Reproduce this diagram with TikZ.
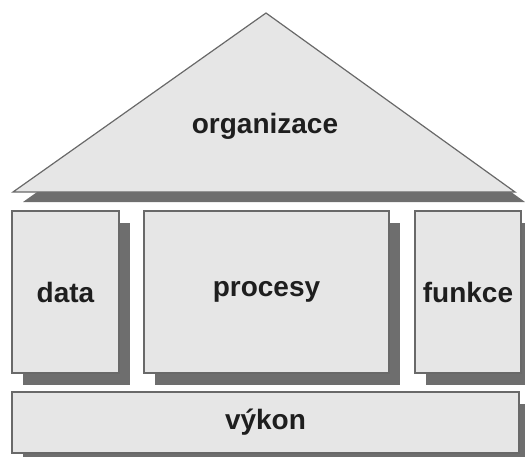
\documentclass[tikz,border=0pt]{standalone}
\usepackage{fontspec}
\setmainfont{Liberation Sans}
\usetikzlibrary{shadows}
\definecolor{boxfill}{RGB}{230,230,230}
\definecolor{boxedge}{RGB}{105,105,105}
\definecolor{shadowcol}{RGB}{110,110,110}
\definecolor{labelcol}{RGB}{30,30,30}
\begin{document}
\begin{tikzpicture}[x=0.75pt,y=-0.75pt,
  pillar/.style={draw=boxedge, fill=boxfill, line width=0.9pt, inner sep=0pt,
    text=labelcol, font=\fontsize{21}{25}\selectfont\bfseries,
    drop shadow={shadow xshift=8.25pt, shadow yshift=-9pt, fill=shadowcol, opacity=1}},
  roof/.style={draw=boxedge, fill=boxfill, line width=0.9pt, line join=miter},
  roofshadow/.style={fill=shadowcol},
  label/.style={text=labelcol, font=\fontsize{21}{25}\selectfont\bfseries}]
  \useasboundingbox (0,0) rectangle (525,457);
  \clip (0,0) rectangle (525,457);

  % roof corners
  \coordinate (apex) at (266,13);
  \coordinate (eaveL) at (13,192);
  \coordinate (eaveR) at (515,192);

  % roof with its shadow
  \fill[roofshadow] ([shift={(10,10)}]apex) -- ([shift={(10,10)}]eaveL) -- ([shift={(10,10)}]eaveR) -- cycle;
  \draw[roof] (apex) -- (eaveL) -- (eaveR) -- cycle;
  \node[label] (org) at (265,126) {organizace};

  % pillars
  \node[pillar, minimum width=107*0.75pt, minimum height=162*0.75pt] (data) at (65.5,292) {data};
  \node[pillar, minimum width=245*0.75pt, minimum height=162*0.75pt] (proc) at (266.5,292) {procesy};
  \node[pillar, minimum width=106*0.75pt, minimum height=162*0.75pt] (funk) at (468,292) {funkce};

  % foundation
  \node[pillar, minimum width=507*0.75pt, minimum height=61*0.75pt] (vykon) at (265.5,422.5) {výkon};
\end{tikzpicture}
\end{document}
